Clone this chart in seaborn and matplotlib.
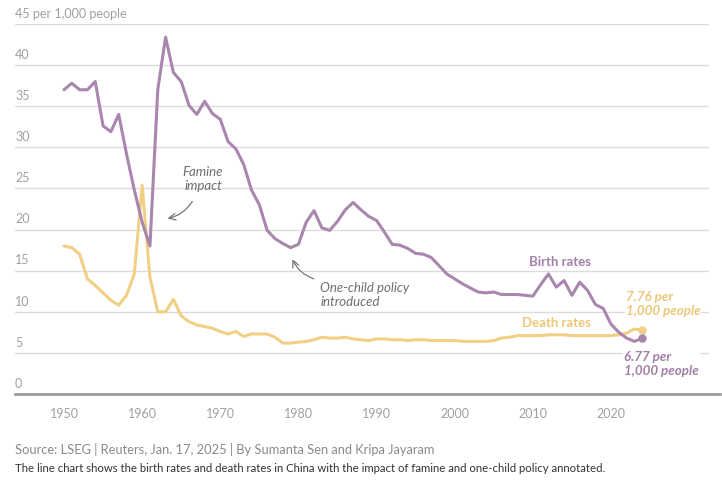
import matplotlib
matplotlib.use("Agg")
import matplotlib.pyplot as plt
import seaborn as sns
import pandas as pd
import numpy as np

years = list(range(1950, 2025))
birth_rates = [37.0, 37.8, 37.0, 37.0, 38.0, 32.6, 31.9, 34.0, 29.2, 24.8,
               20.9, 18.0, 37.0, 43.4, 39.1, 38.0, 35.1, 34.0, 35.6, 34.1,
               33.4, 30.7, 29.8, 27.9, 24.8, 23.0, 19.9, 18.9, 18.3, 17.8,
               18.2, 20.9, 22.3, 20.2, 19.9, 21.0, 22.4, 23.3, 22.4, 21.6,
               21.1, 19.7, 18.2, 18.1, 17.7, 17.1, 17.0, 16.6, 15.6, 14.6,
               14.0, 13.4, 12.9, 12.4, 12.3, 12.4, 12.1, 12.1, 12.1, 12.0,
               11.9, 13.3, 14.6, 13.0, 13.8, 12.0, 13.6, 12.6, 10.9, 10.4,
               8.5, 7.5, 6.8, 6.4, 6.77]
death_rates = [18.0, 17.8, 17.0, 14.0, 13.2, 12.3, 11.4, 10.8, 12.0, 14.6,
               25.4, 14.2, 10.0, 10.0, 11.5, 9.5, 8.8, 8.4, 8.2, 8.0,
               7.6, 7.3, 7.6, 7.0, 7.3, 7.3, 7.3, 6.9, 6.2, 6.2,
               6.3, 6.4, 6.6, 6.9, 6.8, 6.8, 6.9, 6.7, 6.6, 6.5,
               6.7, 6.7, 6.6, 6.6, 6.5, 6.6, 6.6, 6.5, 6.5, 6.5,
               6.5, 6.4, 6.4, 6.4, 6.4, 6.5, 6.8, 6.9, 7.1, 7.1,
               7.1, 7.1, 7.2, 7.2, 7.2, 7.1, 7.1, 7.1, 7.1, 7.1,
               7.1, 7.2, 7.4, 7.9, 7.76]
x_ticks = [1950, 1960, 1970, 1980, 1990, 2000, 2010, 2020]
y_ticks = [0, 5, 10, 15, 20, 25, 30, 35, 40, 45]
y_tick_labels = ["0", "5", "10", "15", "20", "25", "30", "35", "40", "45 per 1,000 people"]

BIRTH = "#a986ad"
DEATH = "#f1cf85"
BIRTH_TXT = "#a27fa6"
DEATH_TXT = "#ecc778"
TICK_GREY = "#a0a0a0"

sns.set_theme(style="white")
plt.rcParams["font.family"] = ["Lato", "DejaVu Sans"]

df = pd.DataFrame({"year": years * 2,
                   "rate": birth_rates + death_rates,
                   "series": ["Birth rates"] * len(years) + ["Death rates"] * len(years)})

fig = plt.figure(figsize=(7.22, 4.82), dpi=100)
ax = fig.add_axes([15 / 722, 1 - 394 / 482, 705 / 722, 370 / 482])

x0, x1 = 1943.73, 2033.95
ax.set_xlim(x0, x1)
ax.set_ylim(0, 45)

# gridlines
for yt in y_ticks[1:]:
    ax.axhline(yt, xmin=0, xmax=0.983, color="#dcdcdc", lw=1.0, zorder=0)

sns.lineplot(data=df, x="year", y="rate", hue="series",
             palette={"Birth rates": BIRTH, "Death rates": DEATH},
             hue_order=["Death rates", "Birth rates"],
             linewidth=2.2, legend=False, ax=ax, zorder=3)

# end dots
ax.scatter([years[-1]], [death_rates[-1]], s=26, color=DEATH, zorder=4)
ax.scatter([years[-1]], [birth_rates[-1]], s=26, color=BIRTH, zorder=4)

for s in ["top", "right", "left"]:
    ax.spines[s].set_visible(False)
ax.spines["bottom"].set_color("#9a9a9a")
ax.spines["bottom"].set_linewidth(2.0)
ax.spines["bottom"].set_zorder(5)

ax.set_xticks(x_ticks)
ax.set_xticklabels([str(t) for t in x_ticks])
ax.tick_params(axis="x", length=4, width=0.8, color="#cccccc", pad=6,
               labelsize=9, labelcolor=TICK_GREY, direction="out")
ax.set_yticks([])
ax.set_xlabel("")
ax.set_ylabel("")

# y labels above gridlines
for yt, lab in zip(y_ticks, y_tick_labels):
    ax.annotate(lab, xy=(0, yt), xycoords=("axes fraction", "data"),
                xytext=(0, 3), textcoords="offset points",
                ha="left", va="bottom", fontsize=9, color=TICK_GREY)

halo = dict(facecolor="white", edgecolor="none", pad=0.6)

# series labels
ax.text(2013.5, 16.0, "Birth rates", color=BIRTH_TXT, fontsize=9.5,
        fontweight="bold", ha="center", va="center")
ax.text(2013.0, 8.6, "Death rates", color=DEATH_TXT, fontsize=9.5,
        fontweight="bold", ha="center", va="center")

ax.text(2021.9, 10.9, "7.76 per\n1,000 people", color=DEATH_TXT, fontsize=9.6,
        fontweight="bold", fontstyle="italic", ha="left", va="center",
        linespacing=1.2, bbox=halo, zorder=2)
ax.text(2021.7, 3.6, "6.77 per\n1,000 people", color=BIRTH_TXT, fontsize=9.6,
        fontweight="bold", fontstyle="italic", ha="left", va="center",
        linespacing=1.2, bbox=halo, zorder=2)

# annotations
ax.text(1967.8, 26.2, "Famine\nimpact", color="#6f6f6f", fontsize=9.5,
        fontstyle="italic", ha="center", va="center", linespacing=1.2)
ax.annotate("", xy=(1962.9, 21.3), xytext=(1966.6, 23.7),
            arrowprops=dict(arrowstyle="->", color="#777777", lw=0.9,
                            connectionstyle="arc3,rad=-0.25"))

ax.text(1982.8, 12.0, "One-child policy\nintroduced", color="#6f6f6f", fontsize=9.5,
        fontstyle="italic", ha="left", va="center", linespacing=1.2)
ax.annotate("", xy=(1979.1, 16.7), xytext=(1982.3, 13.9),
            arrowprops=dict(arrowstyle="->", color="#777777", lw=0.9,
                            connectionstyle="arc3,rad=-0.25"))

fig.text(15 / 722, 1 - 450 / 482, "Source: LSEG | Reuters, Jan. 17, 2025 | By Sumanta Sen and Kripa Jayaram",
         fontsize=9.3, color="#8a8a8a", ha="left", va="center")
fig.text(15 / 722, 1 - 468 / 482,
         "The line chart shows the birth rates and death rates in China with the impact of famine and one-child policy annotated.",
         fontsize=8.2, color="#333333", ha="left", va="center")

fig.savefig("out.png", dpi=100)
